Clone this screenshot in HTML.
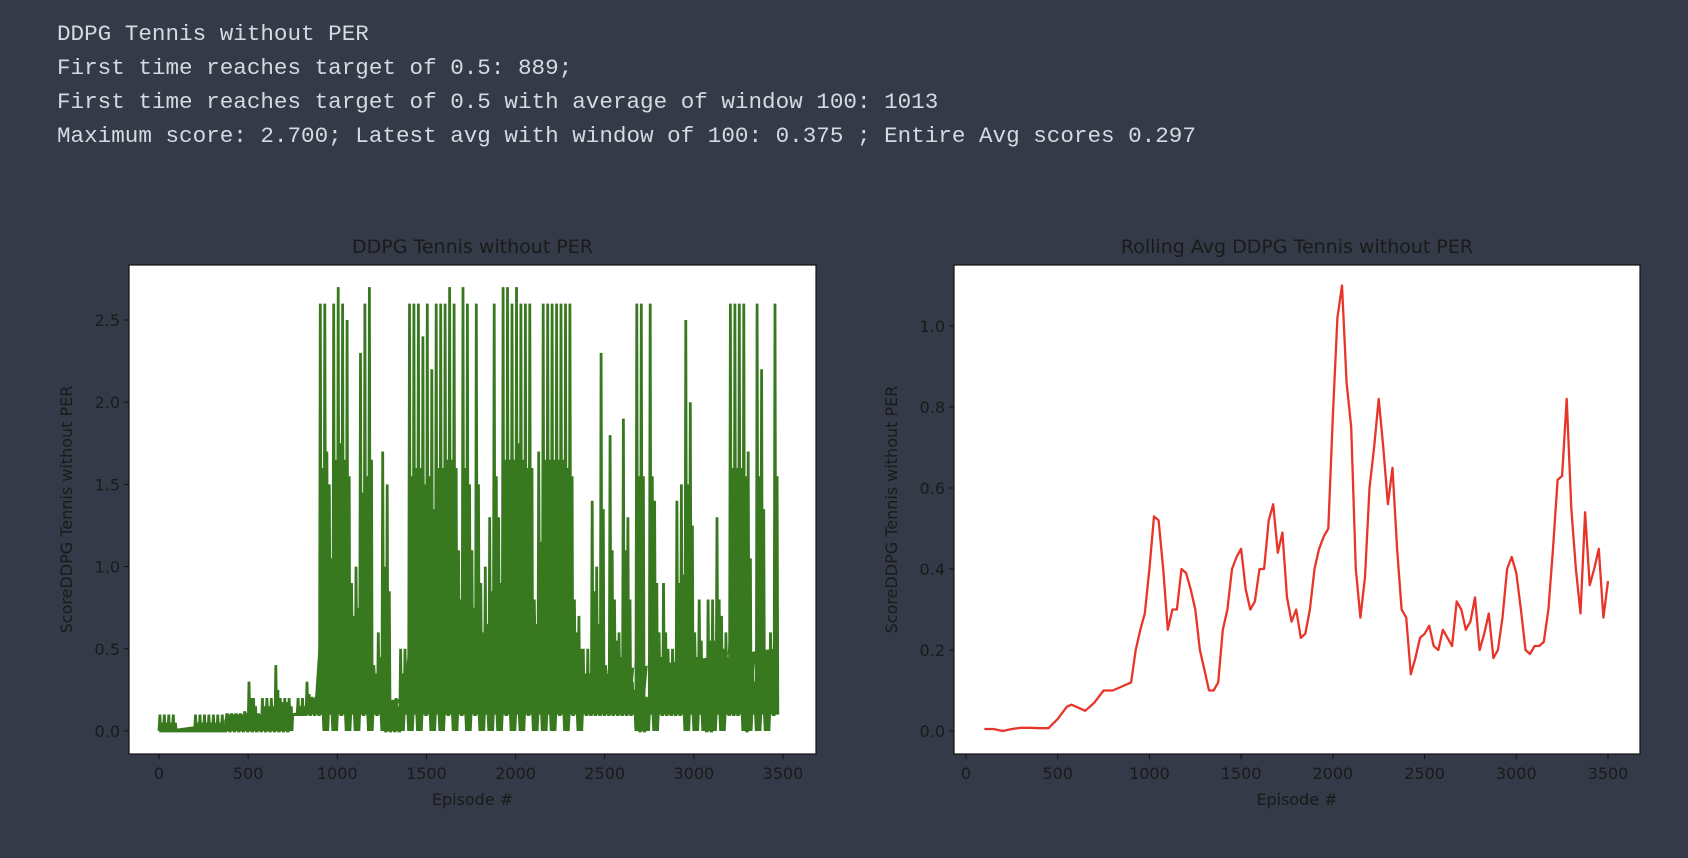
<!DOCTYPE html>
<html><head><meta charset="utf-8"><style>
html,body{margin:0;padding:0;background:#343a48;width:1688px;height:858px;overflow:hidden}
.hdr{position:absolute;left:57px;top:17px;font-family:"Liberation Mono","Courier New",monospace;font-size:22.6px;color:#d6d9e0;line-height:34px;white-space:pre}
svg{position:absolute;left:0;top:0}
text{font-family:"DejaVu Sans","Liberation Sans",sans-serif;fill:#1a1a1a}
</style></head><body>
<div class="hdr"><div>DDPG Tennis without PER</div><div>First time reaches target of 0.5: 889;</div><div>First time reaches target of 0.5 with average of window 100: 1013</div><div>Maximum score: 2.700; Latest avg with window of 100: 0.375 ; Entire Avg scores 0.297</div></div>
<svg id="s" width="1688" height="858"></svg>
<script>
const scoreEpisodes0 = 0, scoreStep = 25;
const scoreHighs = [0.1,0.1,0.1,0.1,0,0,0,0,0.1,0.1,0.1,0.1,0.1,0.1,0.1,0.1,0.1,0.1,0.1,0.12,0.3,0.2,0.1,0.2,0.2,0.2,0.4,0.2,0.2,0.2,0.1,0.2,0.2,0.3,0.2,0.2,2.6,2.6,1.5,2.6,2.7,2.6,2.5,0.9,1.0,2.3,2.6,2.7,0.4,0.6,1.7,1.5,0.1,0.2,0.5,0.5,2.6,2.6,2.6,2.4,2.6,2.2,2.6,2.6,2.6,2.7,2.6,1.1,2.7,2.6,1.1,2.6,0.9,1.0,1.3,2.6,1.3,2.7,2.7,2.6,2.7,2.6,2.6,2.6,0.8,1.7,2.6,2.6,2.6,2.6,2.6,2.6,2.6,0.8,0.7,0.5,0.5,1.4,1.0,2.3,0.4,1.8,0.8,0.6,1.9,1.3,0.3,2.6,2.6,0.2,2.6,1.4,0.6,0.9,0.5,0.5,1.4,1.5,2.5,2.0,0.6,0.8,0.4,0.8,0.8,1.3,0.7,0.6,2.6,2.6,2.6,2.6,1.7,0.4,2.6,2.2,0.4,0.6,2.6,2.6,1.8];
const scoreMids = [0,0,0,0,0,0,0,0,0,0,0,0,0,0,0,0.1,0.1,0.1,0.1,0.1,0.1,0.1,0.1,0.1,0.1,0.1,0.1,0.15,0.15,0.1,0.1,0.1,0.1,0.15,0.2,0.2,0.6,0.8,0.6,0.7,0.8,0.7,0.6,0.5,0.5,0.6,0.5,0.6,0.3,0.3,0.3,0.2,0.1,0.1,0.2,0.3,0.5,0.6,0.6,0.6,0.5,0.5,0.6,0.6,0.7,0.6,0.6,0.5,0.5,0.4,0.4,0.4,0.3,0.3,0.4,0.5,0.5,0.6,0.6,0.7,0.8,0.7,0.6,0.6,0.5,0.6,0.7,0.7,0.7,0.7,0.7,0.6,0.5,0.4,0.3,0.2,0.2,0.3,0.3,0.4,0.3,0.4,0.3,0.3,0.3,0.3,0.2,0.5,0.5,0.2,0.5,0.4,0.3,0.3,0.3,0.3,0.4,0.4,0.5,0.5,0.3,0.3,0.3,0.3,0.3,0.3,0.3,0.3,0.6,0.6,0.6,0.5,0.4,0.2,0.5,0.5,0.2,0.3,0.5,0.5,0.5];
const scoreLows = [0,0,0,0,0,0,0,0,0,0,0,0,0,0,0,0,0,0,0,0,0,0,0,0,0,0,0,0,0,0,0.1,0.1,0.1,0.1,0.1,0.1,0.1,0,0.1,0,0.1,0.1,0,0.1,0,0.1,0.1,0,0.1,0.1,0,0,0,0,0,0.1,0,0.1,0,0.1,0.1,0,0.1,0,0.1,0.1,0,0.1,0.1,0,0.1,0.1,0,0.1,0,0.1,0,0.1,0.1,0,0.1,0,0.1,0.1,0,0.1,0,0.1,0,0.1,0.1,0,0.1,0.1,0,0.1,0.1,0.1,0.1,0.1,0.1,0.1,0.1,0.1,0.1,0.1,0.1,0,0,0,0.1,0,0.1,0.1,0.1,0.1,0.1,0.1,0,0.1,0,0.1,0,0,0,0.1,0,0.1,0.1,0.1,0.1,0,0,0.1,0,0.1,0,0.1,0.1];
const scoreXTicks = [0,500,1000,1500,2000,2500,3000,3500];
const scoreYTicks = [0.0,0.5,1.0,1.5,2.0,2.5];
const avgEpisodes = [100,150,200,250,300,350,400,450,500,550,575,600,650,700,750,800,850,900,925,950,975,1000,1025,1050,1075,1100,1125,1150,1175,1200,1225,1250,1275,1300,1325,1350,1375,1400,1425,1450,1475,1500,1525,1550,1575,1600,1625,1650,1675,1700,1725,1750,1775,1800,1825,1850,1875,1900,1925,1950,1975,2000,2025,2050,2075,2100,2125,2150,2175,2200,2225,2250,2275,2300,2325,2350,2375,2400,2425,2450,2475,2500,2525,2550,2575,2600,2625,2650,2675,2700,2725,2750,2775,2800,2825,2850,2875,2900,2925,2950,2975,3000,3025,3050,3075,3100,3125,3150,3175,3200,3225,3250,3275,3300,3325,3350,3375,3400,3425,3450,3475,3500];
const avgValues = [0.005,0.005,0,0.005,0.008,0.008,0.007,0.007,0.03,0.06,0.065,0.06,0.05,0.07,0.1,0.1,0.11,0.12,0.2,0.25,0.29,0.4,0.53,0.52,0.4,0.25,0.3,0.3,0.4,0.39,0.35,0.3,0.2,0.15,0.1,0.1,0.12,0.25,0.3,0.4,0.43,0.45,0.35,0.3,0.32,0.4,0.4,0.52,0.56,0.44,0.49,0.33,0.27,0.3,0.23,0.24,0.3,0.4,0.45,0.48,0.5,0.78,1.02,1.1,0.86,0.75,0.4,0.28,0.38,0.6,0.7,0.82,0.7,0.56,0.65,0.45,0.3,0.28,0.14,0.18,0.23,0.24,0.26,0.21,0.2,0.25,0.23,0.21,0.32,0.3,0.25,0.27,0.33,0.2,0.24,0.29,0.18,0.2,0.28,0.4,0.43,0.39,0.3,0.2,0.19,0.21,0.21,0.22,0.3,0.45,0.62,0.63,0.82,0.55,0.4,0.29,0.54,0.36,0.4,0.45,0.28,0.37];
const avgXTicks = [0,500,1000,1500,2000,2500,3000,3500];
const avgYTicks = [0.0,0.2,0.4,0.6,0.8,1.0];

const s=document.getElementById('s');
const NS='http://www.w3.org/2000/svg';
function mk(tag,attrs,parent){const e=document.createElementNS(NS,tag);for(const k in attrs)e.setAttribute(k,attrs[k]);(parent||s).appendChild(e);return e;}
function txt(str,attrs){const e=mk('text',attrs);e.textContent=str;return e;}

function axes(cfg){
  const g=mk('g',{});
  
  
  const bg=mk('rect',{x:cfg.bx0,y:cfg.by0,width:cfg.bx1-cfg.bx0,height:cfg.by1-cfg.by0,fill:'#fff'},g);
  
  
  return g;
}
function frame(cfg,g,xs,ys){
  const f=mk('rect',{x:cfg.bx0,y:cfg.by0,width:cfg.bx1-cfg.bx0,height:cfg.by1-cfg.by0,fill:'none',stroke:'#111','stroke-width':1.2},g);
  
  
  cfg.xt.forEach(v=>{
    const x=xs(v);
    mk('line',{x1:x,x2:x,y1:cfg.by1,y2:cfg.by1+5,stroke:'#111'},g);
    const t=txt(String(v),{x:x,y:cfg.by1+25,'text-anchor':'middle','font-size':16});
    
    
  });
  cfg.yt.forEach(v=>{
    const y=ys(v);
    mk('line',{x1:cfg.bx0-5,x2:cfg.bx0,y1:y,y2:y,stroke:'#111'},g);
    const t=txt(v.toFixed(1),{x:cfg.bx0-9,y:y+6,'text-anchor':'end','font-size':16});
    
    
  });
  const ti=txt(cfg.title,{x:(cfg.bx0+cfg.bx1)/2,y:cfg.by0-12,'text-anchor':'middle','font-size':19});
  
  
  const xl=txt('Episode #',{x:(cfg.bx0+cfg.bx1)/2,y:cfg.by1+51,'text-anchor':'middle','font-size':16});
  
  
  const yc=(cfg.by0+cfg.by1)/2;
  const yl=txt('ScoreDDPG Tennis without PER',{x:cfg.ylx,y:yc,'text-anchor':'middle','font-size':16,transform:'rotate(-90 '+cfg.ylx+' '+yc+')'});
  
  
}

// left chart
const L={name:'score-chart',bx0:129,bx1:816,by0:265,by1:754,xt:scoreXTicks,yt:scoreYTicks,title:'DDPG Tennis without PER',ylx:72};
const lx=v=>159+(v-0)*(783-159)/3500, ly=v=>731-v*(731-320)/2.5;
const gl=axes(L);
// dense band (mid level) drawn as area down to the low values
let da='';
for(let i=0;i<scoreMids.length;i++){const e=Math.min(scoreEpisodes0+i*scoreStep,3500);da+=(i?'L':'M')+lx(e).toFixed(1)+' '+ly(Math.max(scoreMids[i],scoreLows[i])).toFixed(1);}
for(let i=scoreMids.length-1;i>=0;i--){const e=Math.min(scoreEpisodes0+i*scoreStep,3500);da+='L'+lx(e).toFixed(1)+' '+ly(Math.min(scoreLows[i],0.1)).toFixed(1);}
const band=mk('path',{d:da+'Z',fill:'#38791f',stroke:'none'},gl);


let d='';
for(let i=0;i<scoreHighs.length;i++){
  const e=scoreEpisodes0+i*scoreStep;
  const lo=scoreLows[i], hi=scoreHighs[i], mid=scoreMids[i];
  const pts=[[e,lo],[e+5,hi],[e+9,mid],[e+13,lo],[e+17,hi*0.5+mid*0.5],[e+21,lo]];
  pts.forEach((p,j)=>{d+=(i===0&&j===0?'M':'L')+lx(Math.min(p[0],3500)).toFixed(1)+' '+ly(p[1]).toFixed(1);});
}
const sl=mk('path',{d:d,fill:'none',stroke:'#38791f','stroke-width':2.8,'stroke-linejoin':'miter'},gl);


frame(L,gl,lx,ly);

// right chart
const R={name:'rolling-avg-chart',bx0:954,bx1:1640,by0:265,by1:754,xt:avgXTicks,yt:avgYTicks,title:'Rolling Avg DDPG Tennis without PER',ylx:897};
const rx=v=>966+v*(1608-966)/3500, ry=v=>731-v*(731-326)/1.0;
const gr=axes(R);
let d2='';
avgEpisodes.forEach((e,i)=>{d2+=(i?'L':'M')+rx(e).toFixed(1)+' '+ry(avgValues[i]).toFixed(1);});
const rl=mk('path',{d:d2,fill:'none',stroke:'#e8352a','stroke-width':2.3,'stroke-linejoin':'round'},gr);


frame(R,gr,rx,ry);
</script>
</body></html>
